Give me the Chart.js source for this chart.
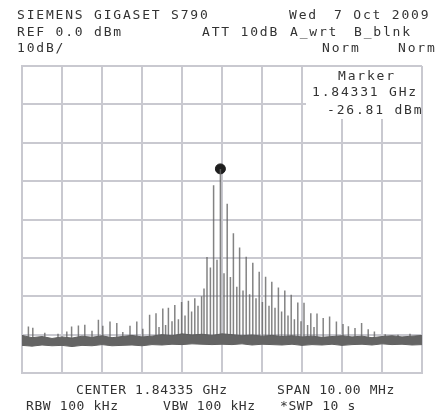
<!DOCTYPE html>
<html>
<head>
<meta charset="utf-8">
<script src="https://cdn.jsdelivr.net/npm/chart.js@4.4.1/dist/chart.umd.min.js"></script>
<style>
  html, body { margin: 0; padding: 0; background: #fff; }
  body { width: 439px; height: 415px; position: relative; overflow: hidden; }
  #wrap { position: absolute; left: 12px; top: 56px; width: 420px; height: 327px; filter: blur(0.35px); }
  .t { position: absolute; font-family: "DejaVu Sans Mono", monospace; font-size: 13px; letter-spacing: 1.8px;
       color: #333; white-space: nowrap; line-height: 14px; filter: blur(0.3px); }
  .b { letter-spacing: 0.6px; }
  #mk { position: absolute; left: 306px; top: 67px; width: 115px; height: 52px; background: #fff; }
</style>
</head>
<body>
<div id="wrap"><canvas id="chart"></canvas></div>
<div id="mk"></div>

<div class="t" style="left:17px;top:8px">SIEMENS GIGASET S790</div>
<div class="t" style="left:289px;top:8px">Wed</div>
<div class="t" style="left:334px;top:8px">7 Oct 2009</div>
<div class="t" style="left:17px;top:25px">REF 0.0 dBm</div>
<div class="t" style="left:202px;top:25px">ATT 10dB</div>
<div class="t" style="left:290px;top:25px">A_wrt</div>
<div class="t" style="left:354px;top:25px">B_blnk</div>
<div class="t" style="left:17px;top:41px">10dB/</div>
<div class="t" style="left:322px;top:41px">Norm</div>
<div class="t" style="left:398px;top:41px">Norm</div>

<div class="t" style="left:338px;top:69px">Marker</div>
<div class="t" style="left:312px;top:85px">1.84331 GHz</div>
<div class="t" style="left:327px;top:103px">-26.81 dBm</div>

<div class="t b" style="left:76px;top:383px">CENTER 1.84335 GHz</div>
<div class="t b" style="left:277px;top:383px">SPAN 10.00  MHz</div>
<div class="t b" style="left:26px;top:399px">RBW  100 kHz</div>
<div class="t b" style="left:163px;top:399px">VBW 100 kHz</div>
<div class="t b" style="left:280px;top:399px">*SWP 10  s</div>

<script>
// frequency offsets from CENTER 1.84335 GHz, in MHz; levels in dBm

// noise floor band, every 0.25 MHz from -5 to +5
const noiseFreq = [-5,-4.75,-4.5,-4.25,-4,-3.75,-3.5,-3.25,-3,-2.75,-2.5,-2.25,-2,-1.75,-1.5,-1.25,-1,-0.75,-0.5,-0.25,0,
                   0.25,0.5,0.75,1,1.25,1.5,1.75,2,2.25,2.5,2.75,3,3.25,3.5,3.75,4,4.25,4.5,4.75,5];
const noiseTop = [-70.2,-70.8,-70.5,-71.0,-70.6,-70.9,-70.4,-70.7,-70.3,-70.8,-70.5,-70.2,-70.6,-70.4,-70.0,-70.3,-69.8,-70.1,-69.9,-70.2,-69.8,
                  -70.0,-70.3,-70.1,-70.4,-70.2,-70.5,-70.3,-70.6,-70.4,-70.7,-70.5,-70.3,-70.6,-70.4,-70.8,-70.5,-70.3,-70.6,-70.4,-70.2];
const noiseBottom = [-72.8,-73.0,-72.7,-72.9,-72.8,-73.1,-72.8,-72.9,-72.6,-72.9,-72.8,-72.7,-72.9,-72.6,-72.7,-72.5,-72.6,-72.4,-72.5,-72.6,-72.5,
                     -72.6,-72.4,-72.7,-72.5,-72.6,-72.7,-72.5,-72.8,-72.6,-72.7,-72.5,-72.8,-72.6,-72.5,-72.7,-72.4,-72.6,-72.5,-72.7,-72.6];

// main comb lines and low bumps
const spikeFreq = [-4.84,-4.73,-4.43,-4.10,-3.88,-3.76,-3.59,-3.43,-3.25,-3.09,-2.98,-2.80,-2.63,-2.48,-2.30,-2.13,-1.98,
                   -1.81,-1.65,-1.48,-1.34,-1.18,-1.01,-0.84,-0.68,-0.51,-0.375,-0.21,-0.04,0.13,0.285,0.44,0.605,0.77,0.93,
                   1.09,1.245,1.41,1.57,1.73,1.895,2.05,2.22,2.375,2.53,2.69,2.86,3.025,3.16,3.325,3.49,3.655,3.81,
                   4.08,4.40,4.70];
const spikeLevel = [-67.9,-68.2,-69.5,-69.8,-69.2,-67.9,-67.6,-67.4,-69.0,-66.1,-67.7,-66.6,-67.0,-69.3,-67.7,-66.6,-68.5,
                    -64.8,-64.4,-63.2,-63.0,-62.3,-61.5,-61.2,-60.5,-60.0,-49.8,-31.1,-26.81,-35.9,-43.6,-47.3,-49.7,-51.3,-53.6,
                    -54.9,-56.2,-57.7,-58.5,-59.6,-61.6,-61.7,-64.4,-64.5,-65.7,-65.3,-66.6,-67.2,-67.8,-68.3,-67.0,-68.6,-69.2,
                    -69.9,-70.0,-69.8];

// lower lines between the comb
const sideFreq = [-1.575,-1.41,-1.25,-1.09,-0.925,-0.76,-0.60,-0.45,-0.29,-0.125,0.05,0.21,0.37,0.525,0.69,0.85,
                  1.01,1.175,1.325,1.49,1.65,1.81,1.975,2.14,2.30];
const sideLevel = [-68,-67.5,-66.5,-66,-65,-64,-62.5,-58,-52.5,-50.5,-54,-55,-57.5,-58.5,-59.5,-60.5,
                   -61.5,-62.5,-63,-64,-65,-66,-66.5,-67.5,-68];

const floorLevel = -71.5;

const markerFreq = [-0.04];
const markerLevel = [-26.81];

// build the trace: each line goes floor -> top -> floor
const lines = spikeFreq.map((f, i) => [f, spikeLevel[i]])
  .concat(sideFreq.map((f, i) => [f, sideLevel[i]]))
  .sort((a, b) => a[0] - b[0]);
const trace = [];
lines.forEach(([f, lvl]) => {
  trace.push({ x: f, y: floorLevel }, { x: f, y: lvl }, { x: f, y: floorLevel });
});

const gridColor = '#c9c9d0';

new Chart(document.getElementById('chart'), {
  type: 'line',
  data: {
    datasets: [
      {
        data: noiseFreq.map((f, i) => ({ x: f, y: noiseTop[i] })),
        borderColor: '#5e5e5e', borderWidth: 1, pointRadius: 0,
        backgroundColor: '#646464', fill: '+1'
      },
      {
        data: noiseFreq.map((f, i) => ({ x: f, y: noiseBottom[i] })),
        borderColor: '#5e5e5e', borderWidth: 1, pointRadius: 0, fill: false
      },
      {
        data: trace,
        borderColor: 'rgba(100,100,100,0.8)', borderWidth: 1.5, pointRadius: 0, fill: false
      },
      {
        data: markerFreq.map((f, i) => ({ x: f, y: markerLevel[i] })),
        showLine: false, pointRadius: 5, pointBackgroundColor: '#1e1e1e', pointBorderColor: '#1e1e1e'
      }
    ]
  },
  options: {
    responsive: true,
    maintainAspectRatio: false,
    animation: false,
    events: [],
    layout: { padding: 10 },
    plugins: { legend: { display: false }, tooltip: { enabled: false } },
    scales: {
      x: {
        type: 'linear', min: -5, max: 5,
        ticks: { display: false, stepSize: 1 },
        grid: { color: gridColor, lineWidth: 2, drawTicks: false },
        border: { color: gridColor, width: 2 }
      },
      y: {
        min: -80, max: 0,
        ticks: { display: false, stepSize: 10 },
        grid: { color: gridColor, lineWidth: 2, drawTicks: false },
        border: { color: gridColor, width: 2 }
      }
    }
  }
});
</script>
</body>
</html>
